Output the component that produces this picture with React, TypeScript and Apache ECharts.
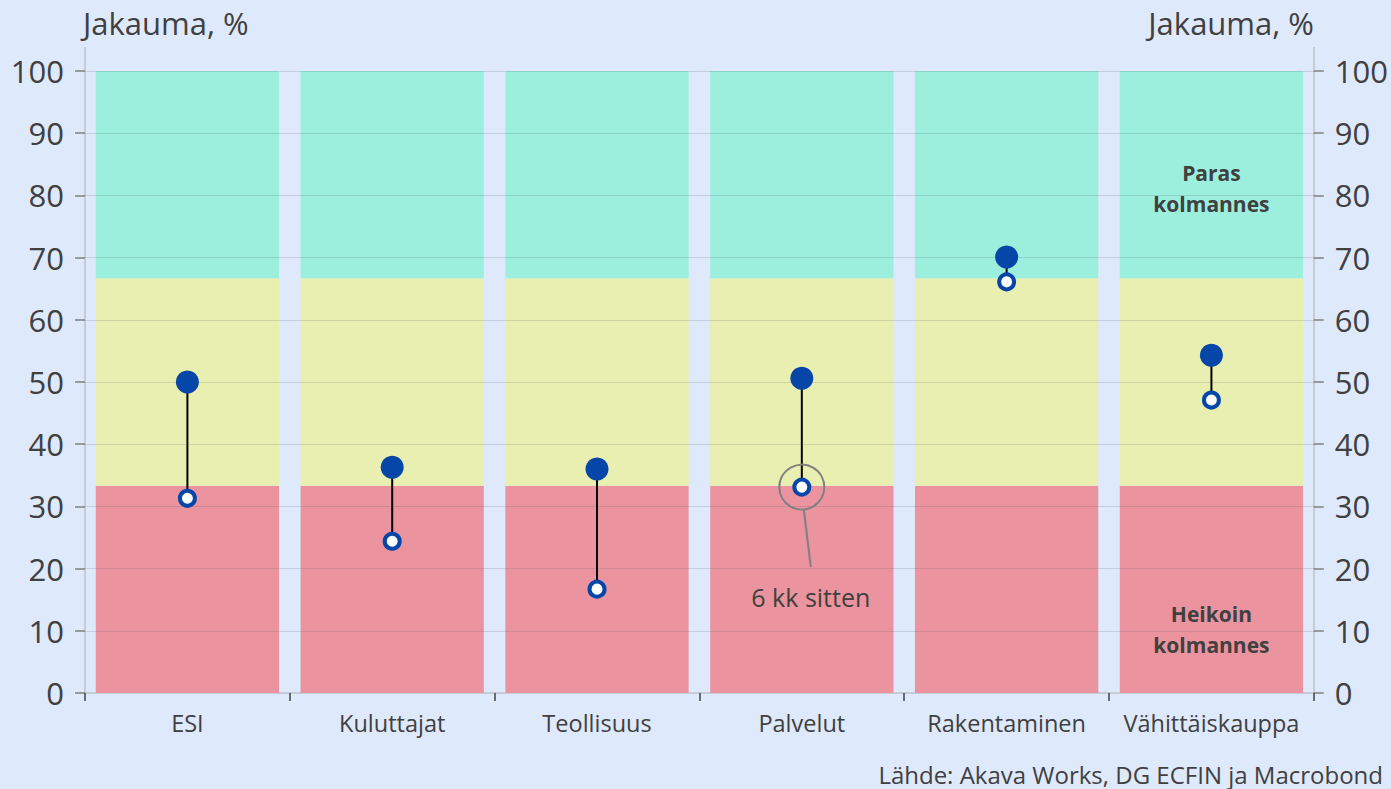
import React, { useEffect, useRef } from "react";
import * as echarts from "echarts";

const categories = ["ESI", "Kuluttajat", "Teollisuus", "Palvelut", "Rakentaminen", "Vähittäiskauppa"];
const current = [50.0, 36.3, 36.0, 50.6, 70.1, 54.3];
const sixMonthsAgo = [31.3, 24.4, 16.7, 33.1, 66.1, 47.1];
const weakestThird = [33.33, 33.33, 33.33, 33.33, 33.33, 33.33];
const middleThird = [33.33, 33.33, 33.33, 33.33, 33.33, 33.33];
const bestThird = [33.34, 33.34, 33.34, 33.34, 33.34, 33.34];
const yTicks = [10, 20, 30, 40, 50, 60, 70, 80, 90, 100];
const axisTitle = "Jakauma, %";
const sourceText = "Lähde: Akava Works, DG ECFIN ja Macrobond";
const annotationText = "6 kk sitten";
const annotatedIndex = 3;
const bestLabel = "Paras\nkolmannes";
const weakestLabel = "Heikoin\nkolmannes";

const FONT = "'Open Sans', sans-serif";
const TEXT = "#404040";
const BG = "#dfe9fc";
const BLUE = "#0646a9";

export default function App() {
  const ref = useRef<HTMLDivElement>(null);
  useEffect(() => {
    document.body.style.margin = "0";
    const chart = echarts.init(ref.current!, null, { renderer: "svg" });
    const last = categories.length - 1;
    const yAxisBase = {
      type: "value",
      min: 0,
      max: 100,
      interval: 10,
      axisLine: { show: true, lineStyle: { color: "#bcc2cc", width: 1.5 } },
      axisTick: { show: true, length: 10, lineStyle: { color: "#7f7f7f", width: 1.5 } },
      axisLabel: { fontSize: 31, color: TEXT, fontFamily: FONT, margin: 21 },
      splitLine: { show: false },
    };
    const option: any = {
      animation: false,
      backgroundColor: BG,
      textStyle: { fontFamily: FONT },
      grid: { left: 85, right: 77, top: 71, bottom: 96, containLabel: false },
      xAxis: {
        type: "category",
        data: categories,
        axisLine: { show: true, lineStyle: { color: "#bcc2cc", width: 1.5 } },
        axisTick: { show: true, length: 8, interval: 0, lineStyle: { color: "#404040", width: 1.5 } },
        axisLabel: { fontSize: 23.5, color: TEXT, fontFamily: FONT, margin: 18, interval: 0 },
      },
      yAxis: [
        { ...yAxisBase, position: "left" },
        { ...yAxisBase, position: "right" },
      ],
      series: [
        {
          type: "bar",
          stack: "thirds",
          barCategoryGap: "10.5%",
          itemStyle: { color: "#eb949f" },
          z: 1,
          data: weakestThird.map((v, i) =>
            i === last
              ? {
                  value: v,
                  label: {
                    show: true,
                    position: "inside",
                    offset: [0, 40],
                    formatter: weakestLabel,
                    fontSize: 21,
                    lineHeight: 31,
                    fontWeight: "bold",
                    color: TEXT,
                    fontFamily: FONT,
                  },
                }
              : v
          ),
        },
        {
          type: "bar",
          stack: "thirds",
          itemStyle: { color: "#e9efb0" },
          z: 1,
          data: middleThird,
        },
        {
          type: "bar",
          stack: "thirds",
          itemStyle: { color: "#9ceedd" },
          z: 1,
          data: bestThird.map((v, i) =>
            i === last
              ? {
                  value: v,
                  label: {
                    show: true,
                    position: "inside",
                    offset: [0, 14],
                    formatter: bestLabel,
                    fontSize: 21,
                    lineHeight: 31,
                    fontWeight: "bold",
                    color: TEXT,
                    fontFamily: FONT,
                  },
                }
              : v
          ),
        },
        {
          type: "line",
          data: [],
          z: 3,
          silent: true,
          markLine: {
            silent: true,
            symbol: "none",
            label: { show: false },
            lineStyle: { type: "solid", width: 1.2, color: "rgba(60,70,90,0.16)" },
            data: yTicks.map((v) => ({ yAxis: v })),
          },
        },
        {
          type: "custom",
          z: 4,
          silent: true,
          data: categories.map((_, i) => [i, sixMonthsAgo[i], current[i]]),
          encode: { x: 0, y: [1, 2] },
          renderItem: (params: any, api: any) => {
            const a = api.coord([api.value(0), api.value(1)]);
            const b = api.coord([api.value(0), api.value(2)]);
            return {
              type: "line",
              shape: { x1: a[0], y1: a[1], x2: b[0], y2: b[1] },
              style: { stroke: "#000000", lineWidth: 2 },
            };
          },
        },
        {
          type: "scatter",
          z: 5,
          symbol: "circle",
          symbolSize: 15,
          itemStyle: { color: "#ffffff", borderColor: BLUE, borderWidth: 4, opacity: 1 },
          data: sixMonthsAgo.map((v, i) => [i, v]),
        },
        {
          type: "scatter",
          z: 6,
          symbol: "circle",
          symbolSize: 23,
          itemStyle: { color: BLUE, opacity: 1 },
          data: current.map((v, i) => [i, v]),
        },
      ],
      graphic: [
        {
          type: "text",
          x: 83,
          y: 23,
          style: { text: axisTitle, fontSize: 31, fill: TEXT, fontFamily: FONT, align: "left", verticalAlign: "middle" },
        },
        {
          type: "text",
          x: 1314,
          y: 23,
          style: { text: axisTitle, fontSize: 31, fill: TEXT, fontFamily: FONT, align: "right", verticalAlign: "middle" },
        },
        {
          type: "text",
          x: 1383,
          y: 774,
          style: { text: sourceText, fontSize: 24, fill: TEXT, fontFamily: FONT, align: "right", verticalAlign: "middle" },
        },
      ],
    };
    chart.setOption(option);

    // axis line extensions above the top of the plot, and the annotation
    const topLeft = chart.convertToPixel({ xAxisIndex: 0, yAxisIndex: 0 }, [0, 100]) as number[];
    const p = chart.convertToPixel({ xAxisIndex: 0, yAxisIndex: 0 }, [annotatedIndex, sixMonthsAgo[annotatedIndex]]) as number[];
    const gridTop = topLeft[1];
    const leftX = 85;
    const rightX = 1391 - 77;
    chart.setOption({
      graphic: [
        ...option.graphic,
        {
          type: "line",
          shape: { x1: leftX, y1: gridTop - 24, x2: leftX, y2: gridTop },
          style: { stroke: "#bcc2cc", lineWidth: 1.5 },
        },
        {
          type: "line",
          shape: { x1: rightX, y1: gridTop - 24, x2: rightX, y2: gridTop },
          style: { stroke: "#bcc2cc", lineWidth: 1.5 },
        },
        {
          type: "circle",
          shape: { cx: p[0], cy: p[1], r: 22.5 },
          style: { fill: "none", stroke: "#808080", lineWidth: 2 },
          z: 10,
        },
        {
          type: "line",
          shape: { x1: p[0] + 2, y1: p[1] + 22.5, x2: p[0] + 9, y2: p[1] + 80 },
          style: { stroke: "#808080", lineWidth: 2 },
          z: 10,
        },
        {
          type: "text",
          x: p[0] + 9,
          y: p[1] + 110,
          style: {
            text: annotationText,
            fontSize: 25,
            fill: TEXT,
            fontFamily: FONT,
            align: "center",
            verticalAlign: "middle",
          },
          z: 10,
        },
      ],
    });
    return () => chart.dispose();
  }, []);
  return <div ref={ref} style={{ width: 1391, height: 789, background: BG }} />;
}
